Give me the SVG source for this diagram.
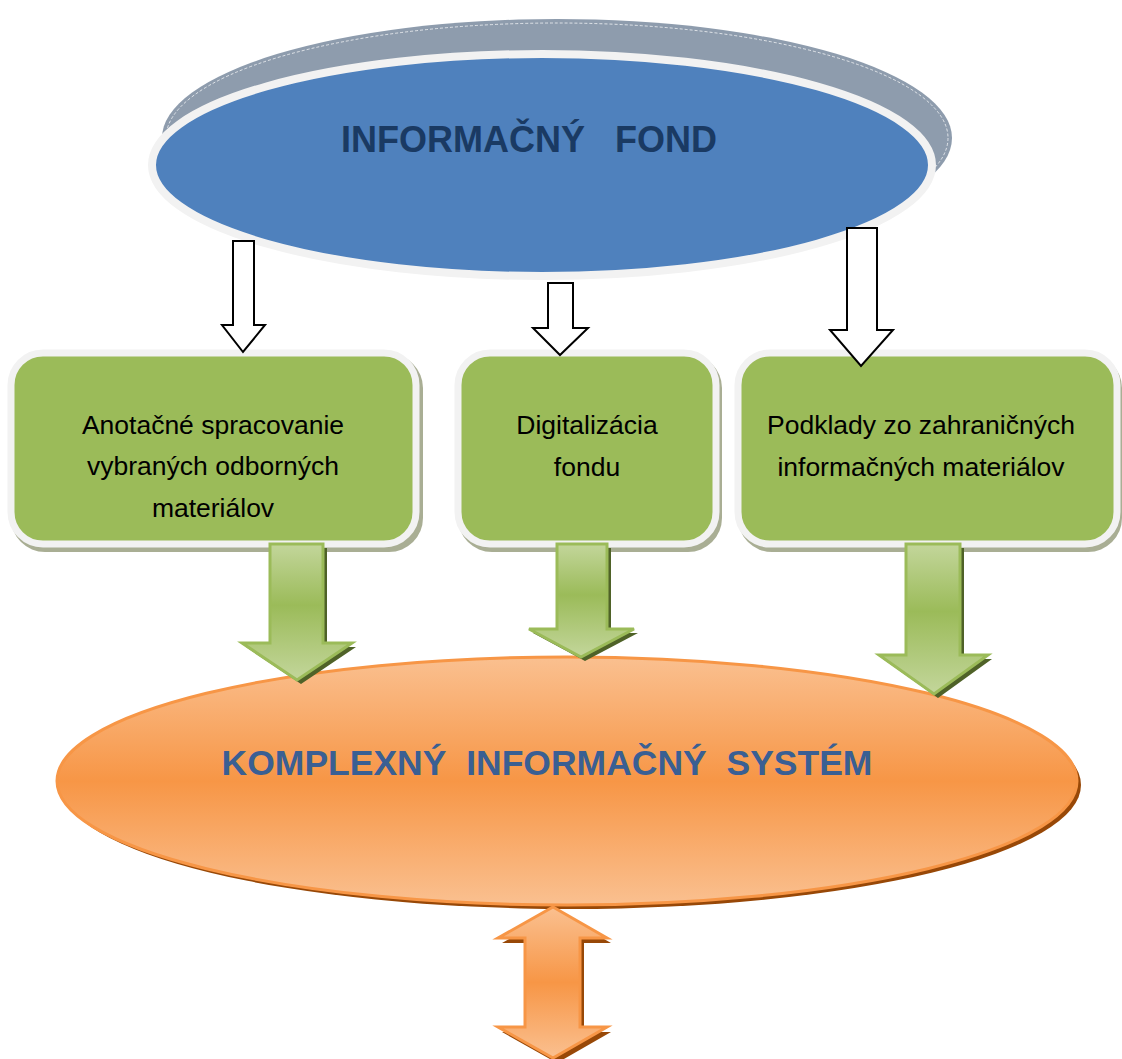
<svg xmlns="http://www.w3.org/2000/svg" width="1122" height="1059" viewBox="0 0 1122 1059">
<defs>
<linearGradient id="gGreen" x1="0" y1="0" x2="0" y2="1">
<stop offset="0" stop-color="#c3d69b"/><stop offset="0.45" stop-color="#9bbb59"/><stop offset="1" stop-color="#c3d69b"/>
</linearGradient>
<linearGradient id="gOrange" x1="0" y1="0" x2="0" y2="1">
<stop offset="0" stop-color="#fac090"/><stop offset="0.5" stop-color="#f79646"/><stop offset="1" stop-color="#fac090"/>
</linearGradient>
<style>
.box{fill:#9bbb59;stroke:#f2f2f2;stroke-width:7}
.boxsh{fill:#a9ae94}
.lbl{font-family:"Liberation Sans",Arial,sans-serif;font-size:26.5px;fill:#000;text-anchor:middle}
.wa{fill:#fff;stroke:#000;stroke-width:2;stroke-linejoin:miter}
.ga{fill:url(#gGreen);stroke:#9bbb59;stroke-width:3;stroke-linejoin:miter}
.gash{fill:#4f6228}
.oa{fill:url(#gOrange);stroke:#f79646;stroke-width:3;stroke-linejoin:miter}
.oash{fill:#984807}
.title{font-family:"Liberation Sans",Arial,sans-serif;font-weight:bold;text-anchor:middle;white-space:pre}
</style>
</defs>
<g id="informacny-fond">
<ellipse cx="557" cy="138" rx="395" ry="119" fill="#8e9cad"/>
<ellipse cx="557" cy="138" rx="391" ry="115" fill="none" stroke="#ffffff" stroke-width="1" stroke-dasharray="3 2" opacity="0.7"/>
<ellipse cx="542" cy="165" rx="390" ry="111" fill="#4f81bd" stroke="#f2f2f2" stroke-width="8"/>
<text class="title" x="529" y="152" font-size="36" fill="#1a3a63">INFORMAČNÝ   FOND</text>
</g>
<g id="komplexny-system">
<ellipse cx="571" cy="785" rx="510" ry="124" fill="#984807"/>
<ellipse cx="567" cy="781" rx="510" ry="124" fill="url(#gOrange)" stroke="#f79646" stroke-width="3"/>
<text class="title" x="547" y="775" font-size="35.5" fill="#3a5f93">KOMPLEXNÝ  INFORMAČNÝ  SYSTÉM</text>
</g>
<g id="box-anotacne">
<rect class="boxsh" x="11" y="354" width="412" height="198" rx="34"/>
<rect class="box" x="11" y="353" width="405" height="191" rx="32"/>
<text class="lbl" x="213" y="434">Anotačné spracovanie</text>
<text class="lbl" x="213" y="475">vybraných odborných</text>
<text class="lbl" x="213" y="517">materiálov</text>
</g>
<g id="box-digitalizacia">
<rect class="boxsh" x="458" y="354" width="264" height="198" rx="34"/>
<rect class="box" x="458" y="353" width="258" height="191" rx="32"/>
<text class="lbl" x="587" y="434">Digitalizácia</text>
<text class="lbl" x="587" y="476">fondu</text>
</g>
<g id="box-podklady">
<rect class="boxsh" x="738" y="354" width="384" height="198" rx="34"/>
<rect class="box" x="738" y="353" width="379" height="191" rx="32"/>
<text class="lbl" x="921" y="434">Podklady zo zahraničných</text>
<text class="lbl" x="921" y="476">informačných materiálov</text>
</g>
<g id="connectors">
<polygon class="wa" points="233,241 254,241 254,325 265,325 243,352 222,325 233,325"/>
<polygon class="wa" points="548,283 573,283 573,328 588,328 560,355 533,328 548,328"/>
<polygon class="wa" points="847,228 877,228 877,330 893,330 861,366 830,330 847,330"/>
<polygon class="gash" points="274,548 327,548 327,647 356,647 301,684 246,647 274,647"/>
<polygon class="ga" points="270,544 323,544 323,643 352,643 297,680 242,643 270,643"/>
<polygon class="gash" points="561,548 611,548 611,633 638,633 585,661 533,633 561,633"/>
<polygon class="ga" points="557,544 607,544 607,629 634,629 581,657 529,629 557,629"/>
<polygon class="gash" points="910,548 964,548 964,659 992,659 938,698 883,659 910,659"/>
<polygon class="ga" points="906,544 960,544 960,655 988,655 934,694 879,655 906,655"/>
<polygon class="oash" points="557,912 611,943 584,943 584,1032 611,1032 557,1063 502,1032 529,1032 529,943 502,943"/>
<polygon class="oa" points="553,907 607,938 580,938 580,1027 607,1027 553,1058 498,1027 525,1027 525,938 498,938"/>
</g>
</svg>
